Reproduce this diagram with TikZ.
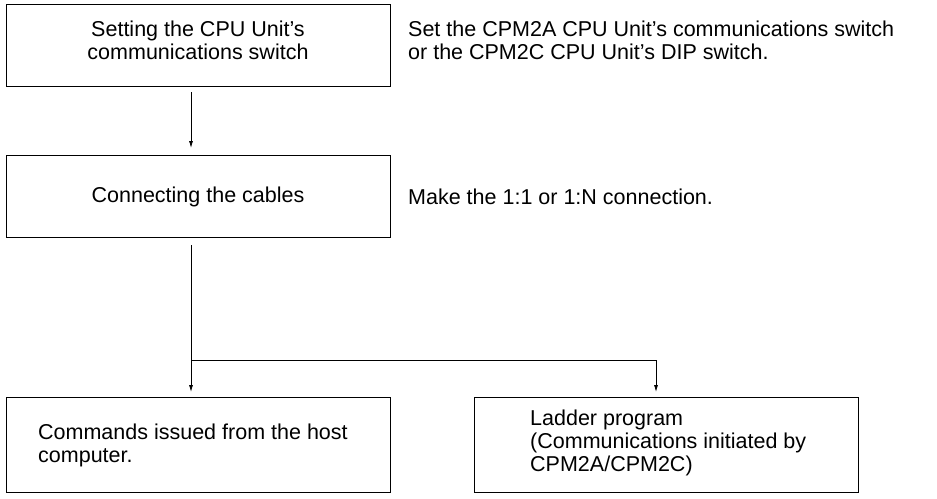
\documentclass[tikz,border=0pt]{standalone}
\usepackage{fontspec}
\setmainfont{Liberation Sans}
\usetikzlibrary{arrows.meta}
\begin{document}
\begin{tikzpicture}[x=1pt,y=-1pt,
  box/.style={draw,line width=0.8pt,inner sep=0pt},
  txt/.style={font=\fontsize{21.5}{23}\selectfont,align=left,anchor=west,inner sep=0pt},
  ctxt/.style={font=\fontsize{21.5}{23}\selectfont,align=center,inner sep=0pt},
  arr/.style={line width=0.8pt,-{Latex[length=7pt,width=4pt]}},
  ln/.style={line width=0.8pt}]
\useasboundingbox (0,0) rectangle (937,498);
\draw[box] (6,4) rectangle (390,86);
\node[ctxt] (t1) at (198,40) {Setting the CPU Unit’s\\communications switch};
\node[txt] (d1) at (408,40) {Set the CPM2A CPU Unit’s communications switch\\or the CPM2C CPU Unit’s DIP switch.};
\draw[box] (6,155) rectangle (390,237);
\node[ctxt] (t2) at (198,197) {Connecting the cables};
\node[txt] (d2) at (408,197) {Make the 1:1 or 1:N connection.};
\draw[box] (6,397) rectangle (390,492);
\node[txt] (t3) at (38,445) {Commands issued from the host\\computer.};
\draw[box] (474,397) rectangle (858,492);
\node[txt] (t4) at (530,443) {Ladder program\\(Communications initiated by\\CPM2A/CPM2C)};
\coordinate (a1) at (191,92);
\coordinate (a2) at (191,148);
\coordinate (b1) at (191,245);
\coordinate (b2) at (191,360);
\coordinate (b3) at (656,360);
\coordinate (e1) at (191,392);
\coordinate (e2) at (656,392);
\draw[arr] (a1) -- (a2);
\draw[ln] (b1) -- (b2) -- (b3);
\draw[arr] (b2) -- (e1);
\draw[arr] (b3) -- (e2);
\end{tikzpicture}
\end{document}
